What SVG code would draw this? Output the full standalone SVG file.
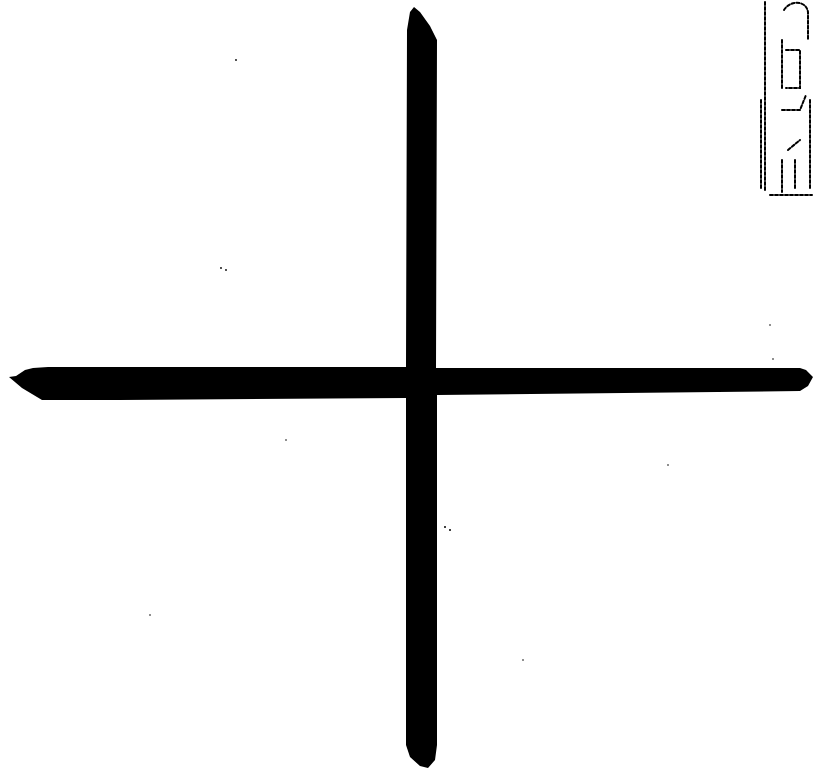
<svg xmlns="http://www.w3.org/2000/svg" width="816" height="770" viewBox="0 0 816 770">
  <style>
    .ink { fill: #000; }
    .noise { fill: none; stroke: #000; stroke-width: 2; stroke-dasharray: 3 2; stroke-linecap: round; }
    .dot { fill: #000; }
  </style>
  <rect width="816" height="770" fill="#fff"/>
  <g id="cross">
    <path class="ink" d="M 414 7 L 420 12 L 430 26 L 437 40 L 436 368 L 800 368 L 806 370 L 813 377 L 808 386 L 800 391 L 437 395 L 437 745 L 435 760 L 428 768 L 420 766 L 410 757 L 406 745 L 406 398 L 120 400 L 42 400 L 22 388 L 9 377 L 16 376 L 25 370 L 33 368 L 48 367 L 406 367 L 407 30 L 410 12 Z"/>
  </g>
  <g id="scan-noise">
    <path class="noise" d="M 765 2 L 765 192"/>
    <path class="noise" d="M 761 100 L 761 190"/>
    <path class="noise" d="M 770 195 L 812 195"/>
    <path class="noise" d="M 782 160 L 782 192"/>
    <path class="noise" d="M 784 10 C 790 0 806 0 808 12 L 808 40"/>
    <path class="noise" d="M 782 40 L 782 90"/>
    <path class="noise" d="M 786 50 L 800 50 L 800 88 L 786 88"/>
    <path class="noise" d="M 782 110 L 800 110 L 806 95"/>
    <path class="noise" d="M 810 100 L 810 190"/>
    <path class="noise" d="M 788 150 L 800 140"/>
    <path class="noise" d="M 795 160 L 795 190"/>
    <circle class="dot" cx="236" cy="60" r="0.9"/>
    <circle class="dot" cx="226" cy="270" r="0.9"/>
    <circle class="dot" cx="221" cy="268" r="0.9"/>
    <circle class="dot" cx="445" cy="527" r="1"/>
    <circle class="dot" cx="450" cy="530" r="1"/>
    <circle class="dot" cx="770" cy="325" r="0.8"/>
    <circle class="dot" cx="668" cy="465" r="0.8"/>
    <circle class="dot" cx="286" cy="440" r="0.8"/>
    <circle class="dot" cx="150" cy="615" r="0.8"/>
    <circle class="dot" cx="523" cy="660" r="0.8"/>
    <circle class="dot" cx="773" cy="359" r="0.8"/>
  </g>
</svg>
